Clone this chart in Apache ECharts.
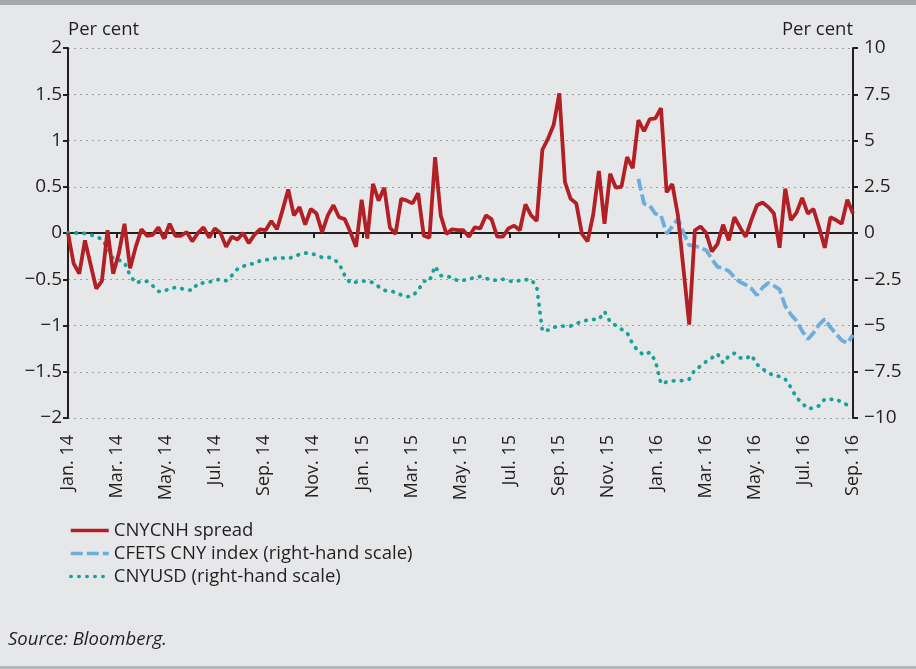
<!DOCTYPE html>
<html>
<head>
<meta charset="utf-8">
<script src="https://cdn.jsdelivr.net/npm/echarts@6/dist/echarts.min.js"></script>
<style>
  html, body { margin: 0; padding: 0; background: #e6e7e9; }
  #chart { width: 916px; height: 669px; }
</style>
</head>
<body>
<div id="chart"></div>
<script>
// x axis: months since Jan. 14, labels every two months
const monthLabels = ['Jan. 14', 'Mar. 14', 'May. 14', 'Jul. 14', 'Sep. 14', 'Nov. 14',
  'Jan. 15', 'Mar. 15', 'May. 15', 'Jul. 15', 'Sep. 15', 'Nov. 15',
  'Jan. 16', 'Mar. 16', 'May. 16', 'Jul. 16', 'Sep. 16']

// weekly observations, week 0 = start of Jan. 14, last week = Sep. 16
const weekCount = 140

// CNYCNH spread, per cent (left scale)
const spread = [
  0, -0.33, -0.44, -0.08, -0.34, -0.6, -0.52, 0.03, -0.44, -0.22,
  0.1, -0.38, -0.15, 0.04, -0.03, -0.02, 0.06, -0.06, 0.1, -0.03,
  -0.03, 0.01, -0.09, 0, 0.06, -0.05, 0.05, 0, -0.15, -0.04,
  -0.07, 0, -0.11, -0.02, 0.04, 0.03, 0.13, 0.04, 0.25, 0.47,
  0.19, 0.28, 0.09, 0.26, 0.21, 0.01, 0.19, 0.3, 0.17, 0.15,
  0.01, -0.15, 0.36, -0.06, 0.53, 0.35, 0.49, 0.06, -0.01, 0.37,
  0.35, 0.32, 0.43, -0.03, -0.05, 0.82, 0.19, -0.01, 0.04, 0.03,
  0.03, -0.04, 0.06, 0.05, 0.19, 0.15, -0.04, -0.04, 0.05, 0.08,
  0.03, 0.31, 0.19, 0.13, 0.9, 1.02, 1.17, 1.51, 0.55, 0.37,
  0.32, -0.01, -0.09, 0.2, 0.67, 0.1, 0.64, 0.49, 0.5, 0.82,
  0.7, 1.22, 1.1, 1.23, 1.24, 1.35, 0.44, 0.53, 0.19, -0.4,
  -0.99, 0.03, 0.07, 0, -0.2, -0.12, 0.09, -0.08, 0.17, 0.06,
  -0.04, 0.14, 0.3, 0.33, 0.28, 0.21, -0.16, 0.48, 0.14, 0.22,
  0.38, 0.21, 0.26, 0.06, -0.16, 0.17, 0.14, 0.1, 0.36, 0.21
]

// CFETS CNY index, per cent (right scale), starts at week 101
const cfetsStart = 101
const cfets = [
  2.93, 1.58, 1.49, 1.04, 0.95, -0.04, 0.35, 0.77, 0, -0.66,
  -0.7, -0.8, -0.93, -1.4, -1.83, -1.9, -2.05, -2.4, -2.65, -2.8,
  -3.0, -3.36, -2.95, -2.7, -2.85, -3.05, -3.95, -4.4, -4.75, -5.3,
  -5.74, -5.4, -4.95, -4.65, -5.1, -5.45, -5.8, -5.95, -5.51
]

// CNYUSD, per cent (right scale)
const cnyusd = [
  0, 0, 0, -0.03, -0.1, -0.2, -0.33, -0.8, -1.4, -1.46,
  -1.6, -2.3, -2.7, -2.6, -2.62, -2.85, -3.15, -3.15, -3.0, -2.95,
  -3.0, -3.08, -3.1, -2.72, -2.7, -2.65, -2.55, -2.5, -2.58, -2.3,
  -1.95, -1.8, -1.68, -1.66, -1.5, -1.45, -1.4, -1.35, -1.35, -1.38,
  -1.28, -1.15, -1.08, -1.1, -1.2, -1.32, -1.3, -1.4, -1.65, -2.3,
  -2.7, -2.65, -2.6, -2.6, -2.68, -2.9, -3.1, -3.14, -3.2, -3.35,
  -3.45, -3.4, -3.1, -2.6, -2.6, -1.8, -2.3, -2.34, -2.4, -2.58,
  -2.55, -2.5, -2.4, -2.35, -2.45, -2.55, -2.55, -2.5, -2.58, -2.64,
  -2.56, -2.53, -2.51, -2.9, -5.3, -5.25, -5.1, -5.03, -5.03, -5.03,
  -4.9, -4.79, -4.7, -4.67, -4.67, -4.25, -4.8, -5.0, -5.2, -5.4,
  -6.0, -6.4, -6.59, -6.45, -6.9, -8.15, -8.05, -7.99, -7.99, -7.97,
  -7.9, -7.4, -7.2, -6.95, -6.75, -6.53, -7.02, -6.65, -6.5, -6.75,
  -6.8, -6.6, -7.1, -7.35, -7.55, -7.72, -7.75, -7.9, -8.35, -8.9,
  -9.2, -9.5, -9.45, -9.34, -8.98, -9.0, -8.98, -9.15, -9.3, -9.41
]

const monthMax = (monthLabels.length - 1) * 2
const weekStep = monthMax / (weekCount - 1)
function toPoints(values, start) {
  return values.map((v, i) => [(start + i) * weekStep, v])
}
function minus(v) {
  return String(v).replace('-', '\u2212')
}

const textColor = '#231f20'
const font = 'Open Sans'

const myChart = echarts.init(document.getElementById('chart'))
myChart.setOption({
  backgroundColor: '#e6e7e9',
  animation: false,
  textStyle: { fontFamily: font },
  grid: { left: 68, right: 63, top: 48, bottom: 251 },
  graphic: [
    { type: 'rect', shape: { x: 0, y: 0, width: 916, height: 5 }, style: { fill: '#a7a8ac' } },
    { type: 'rect', shape: { x: 0, y: 666, width: 916, height: 3 }, style: { fill: '#b4b5b8' } },
    { type: 'text', left: 68, top: 20, style: { text: 'Per cent', fill: textColor, font: '18.5px "Open Sans"' } },
    { type: 'text', right: 63, top: 20, style: { text: 'Per cent', fill: textColor, font: '18.5px "Open Sans"' } },
    { type: 'text', left: 8, top: 630, style: { text: 'Source: Bloomberg.', fill: textColor, font: 'italic 18.5px "Open Sans"' } }
  ],
  legend: {
    orient: 'vertical',
    left: 64,
    top: 516,
    itemWidth: 38,
    itemHeight: 14,
    itemGap: 4,
    itemStyle: { opacity: 0 },
    lineStyle: { width: 3.5 },
    textStyle: { color: textColor, fontSize: 18.5, fontFamily: font },
    data: ['CNYCNH spread', 'CFETS CNY index (right-hand scale)', 'CNYUSD (right-hand scale)']
  },
  xAxis: [
    {
      // labels at the bottom
      type: 'value',
      min: 0,
      max: monthMax,
      interval: 2,
      position: 'bottom',
      axisLine: { show: false, onZero: false },
      axisTick: { show: false },
      splitLine: { show: false },
      axisLabel: {
        rotate: 90,
        margin: 17,
        color: textColor,
        fontSize: 18,
        fontFamily: font,
        formatter: (v) => monthLabels[Math.round(v / 2)]
      }
    },
    {
      // zero line with ticks
      type: 'value',
      min: 0,
      max: monthMax,
      interval: 2,
      position: 'bottom',
      axisLine: { show: true, onZero: true, onZeroAxisIndex: 0, lineStyle: { color: '#231f20', width: 2 } },
      axisTick: { show: true, length: 5, lineStyle: { color: '#231f20', width: 2 } },
      axisLabel: { show: false },
      splitLine: { show: false }
    }
  ],
  yAxis: [
    {
      type: 'value',
      min: -2,
      max: 2,
      interval: 0.5,
      position: 'left',
      axisLine: { show: true, onZero: false, lineStyle: { color: '#231f20', width: 2 } },
      axisTick: { show: true, length: 5, lineStyle: { color: '#231f20', width: 2 } },
      axisLabel: { color: textColor, fontSize: 19, fontFamily: font, margin: 6, formatter: minus },
      splitLine: { show: true, lineStyle: { color: '#9d9ea1', width: 1, type: [2, 4] } }
    },
    {
      type: 'value',
      min: -10,
      max: 10,
      interval: 2.5,
      position: 'right',
      axisLine: { show: true, onZero: false, lineStyle: { color: '#231f20', width: 2 } },
      axisTick: { show: true, length: 5, lineStyle: { color: '#231f20', width: 2 } },
      axisLabel: { color: textColor, fontSize: 19, fontFamily: font, margin: 11, formatter: minus },
      splitLine: { show: false }
    }
  ],
  series: [
    {
      name: 'CNYCNH spread',
      type: 'line',
      xAxisIndex: 0,
      yAxisIndex: 0,
      symbol: 'none',
      data: toPoints(spread, 0),
      color: '#b22025',
      lineStyle: { width: 3.8, color: '#b22025' },
      z: 3
    },
    {
      name: 'CFETS CNY index (right-hand scale)',
      type: 'line',
      xAxisIndex: 0,
      yAxisIndex: 1,
      symbol: 'none',
      data: toPoints(cfets, cfetsStart),
      color: '#6eaedc',
      lineStyle: { width: 3.8, color: '#6eaedc', type: [12, 4] },
      z: 2
    },
    {
      name: 'CNYUSD (right-hand scale)',
      type: 'line',
      xAxisIndex: 0,
      yAxisIndex: 1,
      symbol: 'none',
      data: toPoints(cnyusd, 0),
      color: '#17a398',
      lineStyle: { width: 3.8, color: '#17a398', type: [0.5, 7.5], cap: 'round' },
      z: 2
    }
  ]
})
</script>
</body>
</html>
